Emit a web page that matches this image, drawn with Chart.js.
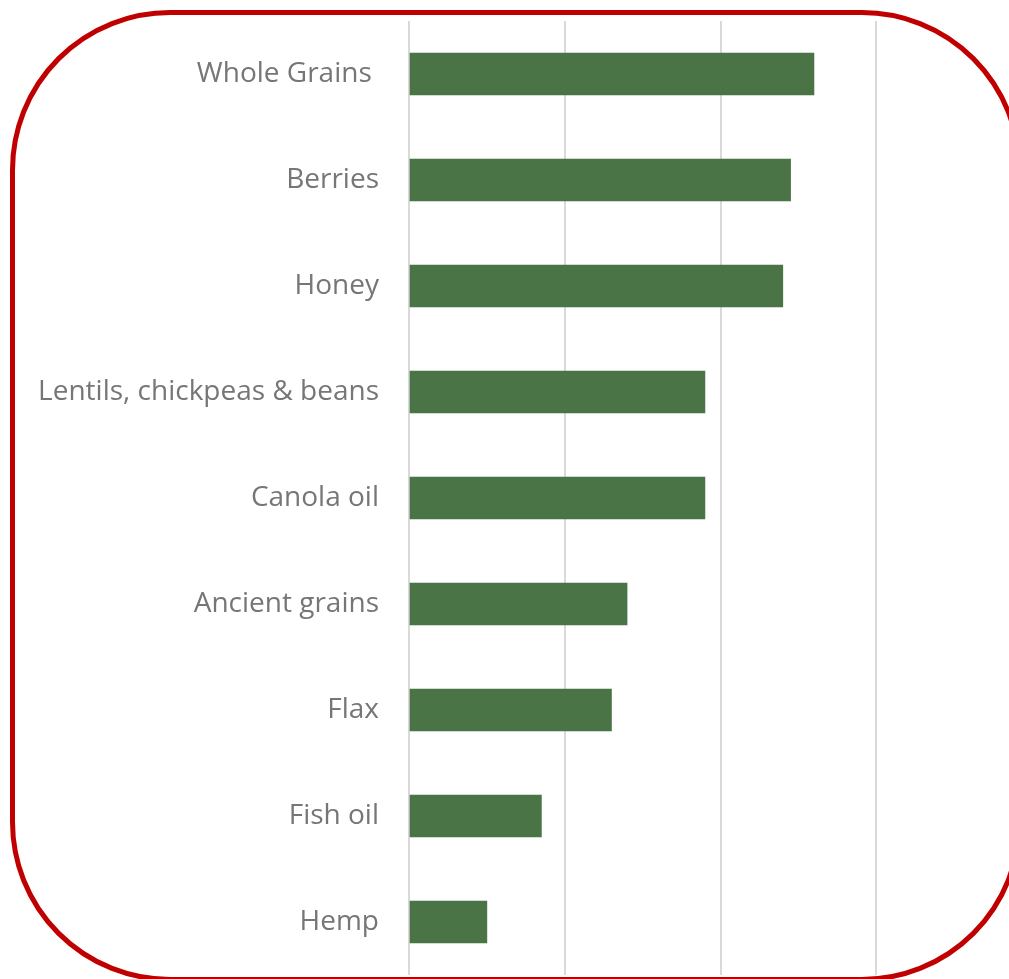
<!DOCTYPE html>
<html>
<head>
<meta charset="utf-8">
<script src="https://cdn.jsdelivr.net/npm/chart.js@4.4.1/dist/chart.umd.min.js"></script>
<style>
  html, body { margin: 0; padding: 0; background: #fff; overflow: hidden; width: 1009px; height: 979px; }
  #wrap { position: absolute; left: 0; top: 0; width: 1032px; height: 979px; }
  #frame {
    position: absolute; left: 10px; top: 10px; width: 1002px; height: 962px;
    border: 5px solid #c00000; border-radius: 160px; pointer-events: none;
  }
</style>
</head>
<body>
<div id="wrap"><canvas id="chart"></canvas></div>
<div id="frame"></div>
<script>
// --- Data ---
const categories = ['Whole Grains ', 'Berries', 'Honey', 'Lentils, chickpeas & beans', 'Canola oil',
  'Ancient grains', 'Flax', 'Fish oil', 'Hemp'];
const shares = [52, 49, 48, 38, 38, 28, 26, 17, 10];
const axisTicks = [0, 20, 40, 60, 80];

const barColor = '#4a7446';
const gridColor = '#d9d9d9';
const labelColor = '#767676';

const ctx = document.getElementById('chart');
new Chart(ctx, {
  type: 'bar',
  data: {
    labels: categories,
    datasets: [{ data: shares, backgroundColor: barColor, borderWidth: 0, barThickness: 42 }],
  },
  options: {
    indexAxis: 'y',
    responsive: true,
    maintainAspectRatio: false,
    animation: false,
    layout: { padding: { top: 21, bottom: 4, left: 0, right: 0 } },
    scales: {
      x: {
        min: axisTicks[0],
        max: axisTicks[axisTicks.length - 1],
        afterBuildTicks: (scale) => { scale.ticks = axisTicks.map(v => ({ value: v })); },
        afterFit: (scale) => { scale.height = 0; scale.paddingLeft = 0; scale.paddingRight = 0; },
        ticks: { display: false },
        grid: { color: gridColor, lineWidth: 2, drawTicks: false },
        border: { display: false },
      },
      y: {
        afterFit: (scale) => { scale.width = 409; scale.paddingTop = 0; scale.paddingBottom = 0; },
        ticks: { color: labelColor, padding: 30, font: { family: 'Open Sans', size: 28 } },
        grid: { display: false, drawTicks: false },
        border: { display: false },
      },
    },
    plugins: { legend: { display: false }, tooltip: { enabled: false } },
  },
});
</script>
</body>
</html>
